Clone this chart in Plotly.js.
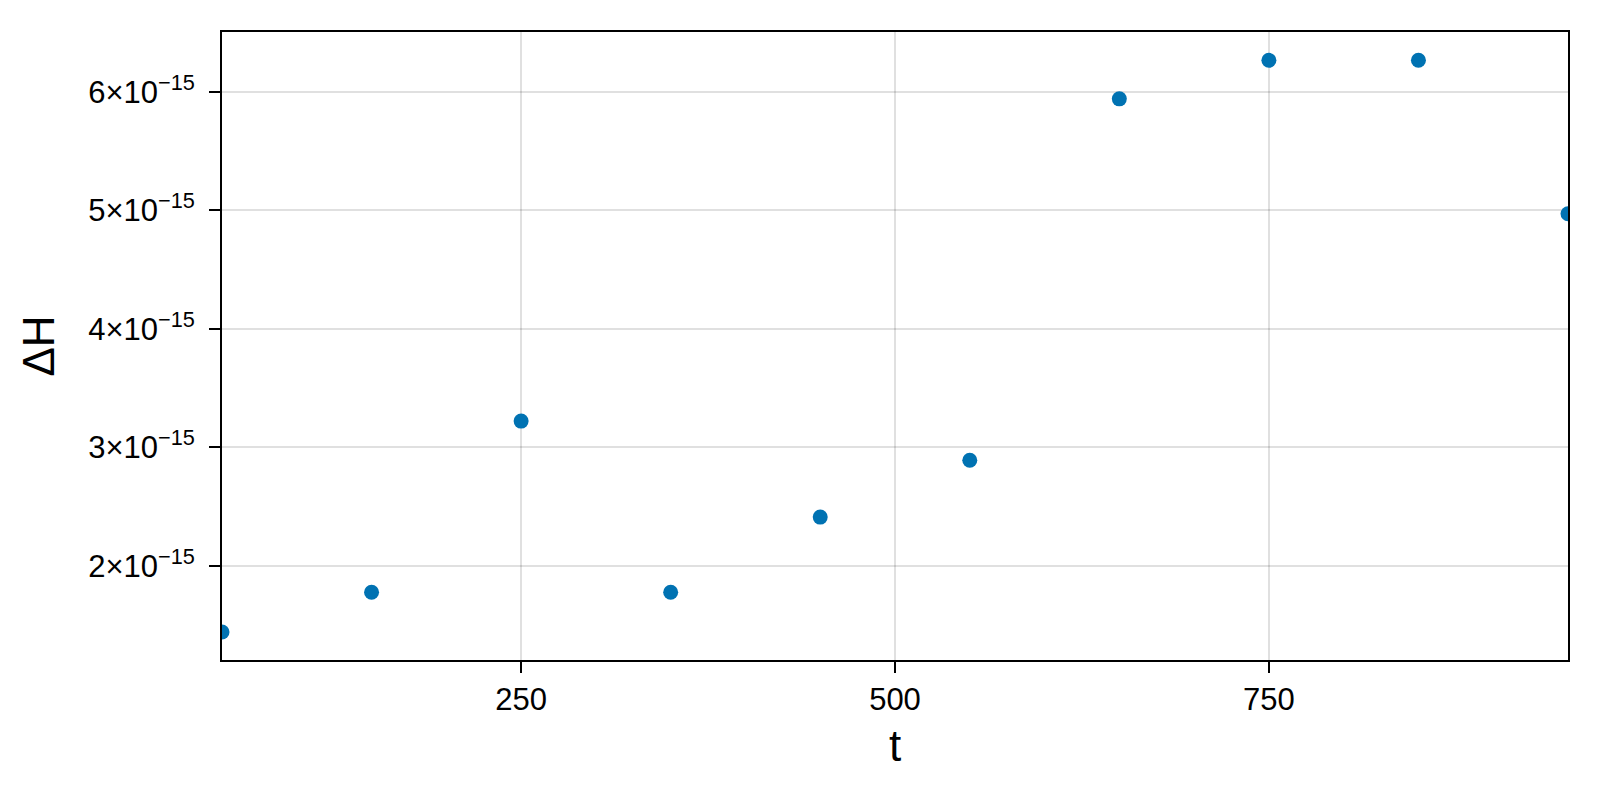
<!DOCTYPE html>
<html>
<head>
<meta charset="utf-8">
<script src="https://cdn.plot.ly/plotly-3.0.1.min.js"></script>
<style>
  html, body { margin: 0; padding: 0; background: #fff; }
  #chart { width: 1600px; height: 800px; }
</style>
</head>
<body>
<div id="chart"></div>
<script>
// sample times and energy drift
const tValues = [50, 150, 250, 350, 450, 550, 650, 750, 850, 950];
const dHValues = [1.44e-15, 1.776e-15, 3.22e-15, 1.776e-15, 2.41e-15,
                  2.89e-15, 5.94e-15, 6.265e-15, 6.265e-15, 4.97e-15];

const yTickVals = [2e-15, 3e-15, 4e-15, 5e-15, 6e-15];
const yTickText = ["2×10<sup>−15</sup>", "3×10<sup>−15</sup>", "4×10<sup>−15</sup>",
                   "5×10<sup>−15</sup>", "6×10<sup>−15</sup>"];
const xTickVals = [250, 500, 750];

const fontFam = "Liberation Sans, Arial, sans-serif";

const trace = {
    type: "scatter",
    mode: "markers",
    x: tValues,
    y: dHValues,
    marker: {color: "rgb(0,114,178)", size: 15},
    cliponaxis: true,
    hoverinfo: "x+y"
};

const layout = {
    width: 1600,
    height: 800,
    margin: {l: 222, r: 32, t: 32, b: 140},
    paper_bgcolor: "#fff",
    plot_bgcolor: "#fff",
    showlegend: false,
    font: {family: fontFam, size: 31, color: "#000"},
    xaxis: {
        range: [50, 950],
        tickvals: xTickVals,
        ticktext: xTickVals.map(String),
        ticks: "outside",
        ticklen: 11,
        tickwidth: 2,
        tickcolor: "#000",
        ticklabelstandoff: 0,
        showgrid: true,
        gridcolor: "rgba(0,0,0,0.12)",
        gridwidth: 2,
        zeroline: false,
        showline: true,
        linecolor: "#000",
        linewidth: 2,
        mirror: true,
        title: {text: "t", font: {size: 44, family: fontFam}, standoff: 14}
    },
    yaxis: {
        range: [1.204e-15, 6.504e-15],
        tickvals: yTickVals,
        ticktext: yTickText,
        ticks: "outside",
        ticklen: 11,
        tickwidth: 2,
        tickcolor: "#000",
        ticklabelstandoff: 8,
        showgrid: true,
        gridcolor: "rgba(0,0,0,0.12)",
        gridwidth: 2,
        zeroline: false,
        showline: true,
        linecolor: "#000",
        linewidth: 2,
        mirror: true,
        title: {text: "ΔH", font: {size: 44, family: fontFam}, standoff: 20}
    }
};

Plotly.newPlot("chart", [trace], layout, {displayModeBar: false, staticPlot: true});
</script>
</body>
</html>
